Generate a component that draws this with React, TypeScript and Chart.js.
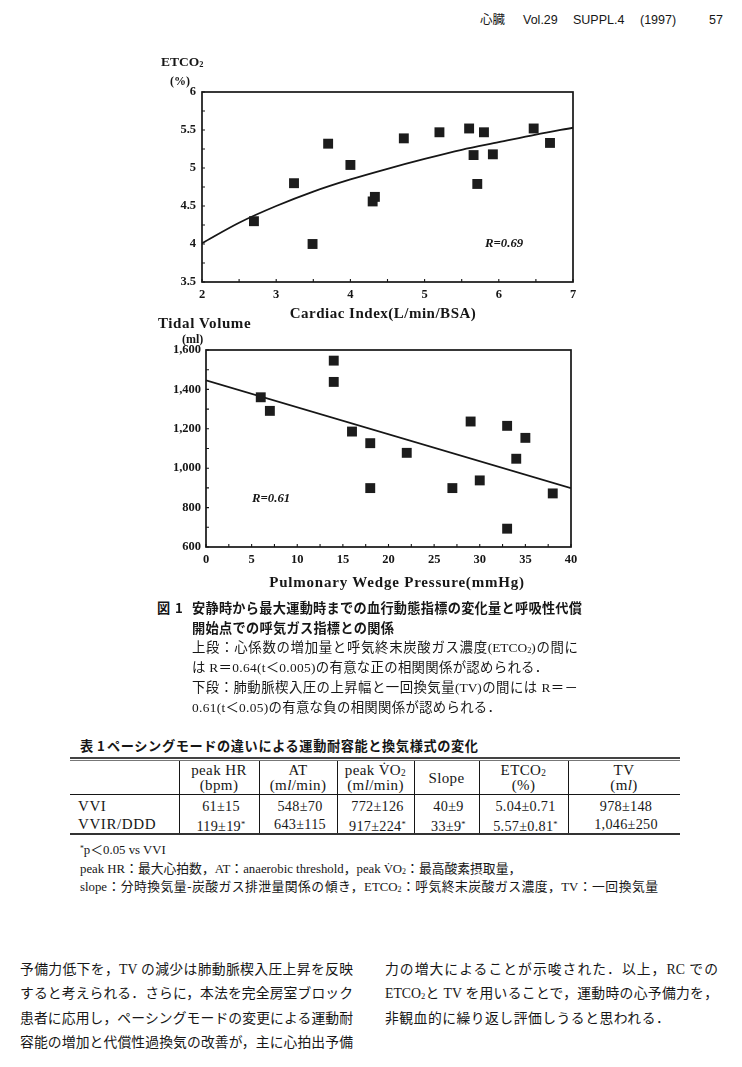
import React, { useEffect, useRef } from "react";
import { Chart, registerables } from "chart.js";

Chart.register(...registerables);

// ---------- Figure 1 (upper): Cardiac Index vs ETCO2 ----------
const ciX = [2.7, 3.24, 3.49, 3.7, 4.0, 4.3, 4.33, 4.72, 5.2, 5.6, 5.66, 5.71, 5.8, 5.92, 6.47, 6.69];
const etco2Y = [4.3, 4.8, 4.0, 5.32, 5.04, 4.56, 4.62, 5.39, 5.47, 5.52, 5.17, 4.79, 5.47, 5.18, 5.52, 5.33];
const ciFitX = [2, 2.5, 3, 3.5, 4, 4.5, 5, 5.5, 6, 6.5, 7];
const ciFitY = [4.01, 4.28, 4.5, 4.69, 4.85, 4.99, 5.12, 5.24, 5.34, 5.44, 5.53];
const ciTicks = [2, 3, 4, 5, 6, 7];
const etco2Ticks = [3.5, 4, 4.5, 5, 5.5, 6];

// ---------- Figure 1 (lower): PWP vs Tidal volume ----------
const pwpX = [6, 7, 14, 14, 16, 18, 18, 22, 27, 29, 30, 33, 33, 34, 35, 38];
const tvY = [1360, 1291, 1546, 1438, 1186, 1127, 899, 1078, 899, 1237, 938, 1215, 693, 1048, 1154, 872];
const pwpFitX = [0, 40];
const tvFitY = [1446, 899];
const pwpTicks = [0, 5, 10, 15, 20, 25, 30, 35, 40];
const tvTicks = [600, 800, 1000, 1200, 1400, 1600];

// ---------- Table 1 ----------
const tableHead1 = ["", "peak HR", "AT", "peak V\u0307O₂", "Slope", "ETCO₂", "TV"];
const tableHead2 = ["", "(bpm)", "(ml/min)", "(ml/min)", "", "(%)", "(ml)"];
const rowLabels = ["VVI", "VVIR/DDD"];
const vviValues = ["61±15", "548±70", "772±126", "40±9", "5.04±0.71", "978±148"];
const vvirValues = ["119±19*", "643±115", "917±224*", "33±9*", "5.57±0.81*", "1,046±250"];

const INK = "#161616";
const SERIF = '"Liberation Serif", "DejaVu Serif", "Noto Sans CJK JP", serif';
const MIX = '"Liberation Serif", "Noto Sans CJK JP", serif';
const GOTHIC = '"Noto Sans CJK JP", "Noto Sans", sans-serif';

const framePlugin = {
  id: "frame",
  afterDatasetsDraw(chart: any, _args: any, opts: any) {
    const { ctx, chartArea: a, scales } = chart;
    ctx.save();
    ctx.strokeStyle = INK;
    ctx.lineWidth = 1.1;
    const xs = scales.x;
    const ys = scales.y;
    ctx.beginPath();
    for (let v = xs.min; v <= xs.max + 1e-9; v += opts.xMinor) {
      const p = xs.getPixelForValue(v);
      ctx.moveTo(p, a.bottom);
      ctx.lineTo(p, a.bottom - 3);
    }
    for (let v = ys.min; v <= ys.max + 1e-9; v += opts.yMinor) {
      const p = ys.getPixelForValue(v);
      ctx.moveTo(a.left, p);
      ctx.lineTo(a.left + 3, p);
    }
    ctx.stroke();
    ctx.lineWidth = 1.7;
    ctx.strokeRect(a.left, a.top, a.right - a.left, a.bottom - a.top);
    ctx.restore();
  },
};

function makeConfig(p: {
  xs: number[];
  ys: number[];
  fx: number[];
  fy: number[];
  xTicks: number[];
  yTicks: number[];
  yWidth: number;
  xHeight: number;
  padTop: number;
  padRight: number;
  xPad: number;
  yPad: number;
  xMinor: number;
  yMinor: number;
  tension: number;
  yFmt: (v: number) => string;
}): any {
  const tickFont = { family: SERIF, size: 12.5, weight: "bold" as const };
  return {
    type: "scatter",
    data: {
      datasets: [
        {
          data: p.xs.map((x, i) => ({ x, y: p.ys[i] })),
          pointStyle: "rect",
          pointRadius: 7,
          backgroundColor: "#1c1c1c",
          borderColor: "#1c1c1c",
          borderWidth: 0,
        },
        {
          data: p.fx.map((x, i) => ({ x, y: p.fy[i] })),
          showLine: true,
          pointRadius: 0,
          borderColor: INK,
          borderWidth: 1.8,
          tension: p.tension,
          cubicInterpolationMode: "monotone",
        },
      ],
    },
    options: {
      animation: false,
      responsive: false,
      layout: { padding: { top: p.padTop, right: p.padRight, left: 0, bottom: 0 } },
      plugins: {
        legend: { display: false },
        tooltip: { enabled: false },
        frame: { xMinor: p.xMinor, yMinor: p.yMinor },
      },
      scales: {
        x: {
          type: "linear",
          min: p.xTicks[0],
          max: p.xTicks[p.xTicks.length - 1],
          afterBuildTicks: (s: any) => {
            s.ticks = p.xTicks.map((v) => ({ value: v }));
          },
          afterFit: (s: any) => {
            s.height = p.xHeight;
          },
          ticks: { padding: p.xPad, font: tickFont, color: INK, maxRotation: 0, autoSkip: false },
          grid: { display: false, drawTicks: false },
          border: { display: false },
        },
        y: {
          type: "linear",
          min: p.yTicks[0],
          max: p.yTicks[p.yTicks.length - 1],
          afterBuildTicks: (s: any) => {
            s.ticks = p.yTicks.map((v) => ({ value: v }));
          },
          afterFit: (s: any) => {
            s.width = p.yWidth;
          },
          ticks: {
            padding: p.yPad,
            font: tickFont,
            color: INK,
            autoSkip: false,
            callback: (v: any) => p.yFmt(Number(v)),
          },
          grid: { display: false, drawTicks: false },
          border: { display: false },
        },
      },
    },
    plugins: [framePlugin],
  };
}

function ChartCanvas({ left, top, width, height, config }: any) {
  const ref = useRef<HTMLCanvasElement>(null);
  useEffect(() => {
    const chart = new Chart(ref.current as HTMLCanvasElement, config);
    return () => chart.destroy();
  }, []);
  return (
    <canvas
      ref={ref}
      width={width}
      height={height}
      style={{ position: "absolute", left, top, width, height }}
    />
  );
}

// render helpers
function rich(s: string): React.ReactNode[] {
  const out: React.ReactNode[] = [];
  let buf = "";
  let k = 0;
  const flush = () => {
    if (buf) out.push(buf);
    buf = "";
  };
  for (let i = 0; i < s.length; i++) {
    const c = s[i];
    if (c === "₂") {
      flush();
      out.push(
        <span key={k++} style={{ fontSize: "0.62em", verticalAlign: "-0.12em" }}>
          2
        </span>
      );
    } else if (c === "*") {
      flush();
      out.push(
        <span key={k++} style={{ fontSize: "0.6em", verticalAlign: "0.45em" }}>
          *
        </span>
      );
    } else if (c === "l" && s[i - 1] === "m" && (s[i + 1] === "/" || s[i + 1] === ")")) {
      flush();
      out.push(
        <i key={k++} style={{ fontStyle: "italic" }}>
          l
        </i>
      );
    } else {
      buf += c;
    }
  }
  flush();
  return out;
}

function Txt({ x, y, children, style, center, width, justify }: any) {
  const st: React.CSSProperties = {
    position: "absolute",
    left: x,
    top: y - 10,
    height: 20,
    lineHeight: "20px",
    whiteSpace: "nowrap",
    color: INK,
    ...(center ? { transform: "translateX(-50%)" } : {}),
    ...(width ? { width } : {}),
    ...(justify ? { textAlign: "justify", textAlignLast: "justify" } : {}),
    ...style,
  };
  return <div style={st}>{children}</div>;
}

const topConfig = makeConfig({
  xs: ciX,
  ys: etco2Y,
  fx: ciFitX,
  fy: ciFitY,
  xTicks: ciTicks,
  yTicks: etco2Ticks,
  yWidth: 62,
  xHeight: 48,
  padTop: 42,
  padRight: 27,
  xPad: 5,
  yPad: 6,
  xMinor: 0.5,
  yMinor: 0.25,
  tension: 0.4,
  yFmt: (v) => String(v),
});

const bottomConfig = makeConfig({
  xs: pwpX,
  ys: tvY,
  fx: pwpFitX,
  fy: tvFitY,
  xTicks: pwpTicks,
  yTicks: tvTicks,
  yWidth: 66,
  xHeight: 43,
  padTop: 40,
  padRight: 29,
  xPad: 5,
  yPad: 5,
  xMinor: 2.5,
  yMinor: 100,
  tension: 0,
  yFmt: (v) => v.toLocaleString("en-US"),
});

const colEdges = [70, 179, 259, 337, 414, 479, 568, 680];

export default function App() {
  const boldLabel = { fontFamily: SERIF, fontWeight: 700 };
  const cap = { fontFamily: MIX, fontSize: 13.4 };
  const body = { fontFamily: MIX, fontSize: 13.8 };
  const cjkBold = { fontFamily: GOTHIC, fontWeight: 700, fontSize: 13.2 };
  const tblHead = { fontFamily: SERIF, fontSize: 15, letterSpacing: 0.4 };
  const tblVal = { fontFamily: SERIF, fontSize: 14.2, letterSpacing: 0.3 };
  const foot = { fontFamily: MIX, fontSize: 12.8 };
  const hdr = { fontFamily: '"Liberation Sans", "Noto Sans CJK JP", sans-serif', fontSize: 12.5 };

  return (
    <div
      style={{
        position: "absolute",
        left: 0,
        top: 0,
        width: 742,
        height: 1067,
        background: "#fff",
        overflow: "hidden",
        color: INK,
      }}
    >
      {/* running header */}
      <Txt x={480} y={20} style={hdr}>心臓</Txt>
      <Txt x={523} y={20} style={hdr}>Vol.29</Txt>
      <Txt x={573} y={20} style={hdr}>SUPPL.4</Txt>
      <Txt x={640} y={20} style={hdr}>(1997)</Txt>
      <Txt x={709} y={20} style={hdr}>57</Txt>

      {/* upper chart */}
      <ChartCanvas left={140} top={50} width={460} height={280} config={topConfig} />
      <Txt x={161} y={62} style={{ ...boldLabel, fontSize: 13.5 }}>{rich("ETCO₂")}</Txt>
      <Txt x={170} y={81} style={{ ...boldLabel, fontSize: 12 }}>(%)</Txt>
      <Txt x={383} y={313} center style={{ ...boldLabel, fontSize: 15, letterSpacing: 0.5 }}>
        Cardiac Index(L/min/BSA)
      </Txt>
      <Txt x={485} y={243} style={{ ...boldLabel, fontStyle: "italic", fontSize: 12.8 }}>R=0.69</Txt>

      {/* lower chart */}
      <ChartCanvas left={140} top={310} width={460} height={280} config={bottomConfig} />
      <Txt x={158} y={323} style={{ ...boldLabel, fontSize: 15, letterSpacing: 0.6 }}>Tidal Volume</Txt>
      <Txt x={182} y={339} style={{ ...boldLabel, fontSize: 12 }}>(ml)</Txt>
      <Txt x={397} y={582} center style={{ ...boldLabel, fontSize: 15, letterSpacing: 0.8 }}>
        Pulmonary Wedge Pressure(mmHg)
      </Txt>
      <Txt x={252} y={498} style={{ ...boldLabel, fontStyle: "italic", fontSize: 12.8 }}>R=0.61</Txt>

      {/* figure caption */}
      <Txt x={157} y={608} style={cjkBold}>図</Txt>
      <Txt x={175} y={608} style={cjkBold}>1</Txt>
      <Txt x={192} y={608} width={390} justify style={cjkBold}>
        安静時から最大運動時までの血行動態指標の変化量と呼吸性代償
      </Txt>
      <Txt x={192} y={628} style={{ ...cjkBold, letterSpacing: 0.3 }}>開始点での呼気ガス指標との関係</Txt>
      <Txt x={192} y={648} width={386} justify style={cap}>
        {rich("上段：心係数の増加量と呼気終末炭酸ガス濃度(ETCO₂)の間に")}
      </Txt>
      <Txt x={192} y={668} style={{ ...cap, letterSpacing: 0.3 }}>
        は R＝0.64(t＜0.005)の有意な正の相関関係が認められる．
      </Txt>
      <Txt x={192} y={688} width={386} justify style={cap}>
        下段：肺動脈楔入圧の上昇幅と一回換気量(TV)の間には R＝－
      </Txt>
      <Txt x={192} y={708} style={{ ...cap, letterSpacing: 0.3 }}>
        0.61(t＜0.05)の有意な負の相関関係が認められる．
      </Txt>

      {/* table title */}
      <Txt x={80} y={746} style={cjkBold}>表</Txt>
      <Txt x={97} y={746} style={cjkBold}>1</Txt>
      <Txt x={107} y={746} width={371} justify style={cjkBold}>
        ペーシングモードの違いによる運動耐容能と換気様式の変化
      </Txt>

      {/* table rules */}
      <div style={{ position: "absolute", left: 70, top: 757, width: 610, height: 2, background: "#444" }} />
      <div style={{ position: "absolute", left: 70, top: 760, width: 610, height: 1, background: "#777" }} />
      <div style={{ position: "absolute", left: 70, top: 794, width: 610, height: 1, background: INK }} />
      <div style={{ position: "absolute", left: 70, top: 833, width: 610, height: 2, background: "#333" }} />
      {colEdges.slice(1, -1).map((x) => (
        <div key={x} style={{ position: "absolute", left: x, top: 761, width: 1, height: 72, background: INK }} />
      ))}

      {/* table header */}
      {tableHead1.map((h, i) => {
        if (!h) return null;
        const cx = (colEdges[i] + colEdges[i + 1]) / 2;
        const two = tableHead2[i] !== "";
        return (
          <React.Fragment key={"h" + i}>
            <Txt x={cx} y={two ? 770 : 778} center style={tblHead}>{rich(h)}</Txt>
            {two && (
              <Txt x={cx} y={785} center style={tblHead}>{rich(tableHead2[i])}</Txt>
            )}
          </React.Fragment>
        );
      })}

      {/* table rows */}
      {[vviValues, vvirValues].map((row, r) => (
        <React.Fragment key={"r" + r}>
          <Txt x={78} y={806 + r * 18} style={{ ...tblHead, letterSpacing: 0.6 }}>{rowLabels[r]}</Txt>
          {row.map((v, i) => {
            const cx = (colEdges[i + 1] + colEdges[i + 2]) / 2;
            return (
              <Txt key={i} x={cx + 2} y={806 + r * 18} center style={tblVal}>{rich(v)}</Txt>
            );
          })}
        </React.Fragment>
      ))}

      {/* table footnotes */}
      <Txt x={80} y={849} style={foot}>{rich("*p＜0.05 vs VVI")}</Txt>
      <Txt x={80} y={869} style={foot}>
        {rich("peak HR：最大心拍数，AT：anaerobic threshold，peak V\u0307O₂：最高酸素摂取量，")}
      </Txt>
      <Txt x={80} y={887} width={578} justify style={foot}>
        {rich("slope：分時換気量-炭酸ガス排泄量関係の傾き，ETCO₂：呼気終末炭酸ガス濃度，TV：一回換気量")}
      </Txt>

      {/* body text, left column */}
      <Txt x={20} y={970} width={333} justify style={body}>予備力低下を，TV の減少は肺動脈楔入圧上昇を反映</Txt>
      <Txt x={20} y={994} width={333} justify style={body}>すると考えられる．さらに，本法を完全房室ブロック</Txt>
      <Txt x={20} y={1019} width={333} justify style={body}>患者に応用し，ペーシングモードの変更による運動耐</Txt>
      <Txt x={20} y={1043} width={333} justify style={body}>容能の増加と代償性過換気の改善が，主に心拍出予備</Txt>

      {/* body text, right column */}
      <Txt x={385} y={970} width={333} justify style={body}>力の増大によることが示唆された．以上，RC での</Txt>
      <Txt x={385} y={994} width={333} justify style={body}>{rich("ETCO₂と TV を用いることで，運動時の心予備力を，")}</Txt>
      <Txt x={385} y={1019} style={{ ...body, letterSpacing: 0.5 }}>非観血的に繰り返し評価しうると思われる．</Txt>
    </div>
  );
}
